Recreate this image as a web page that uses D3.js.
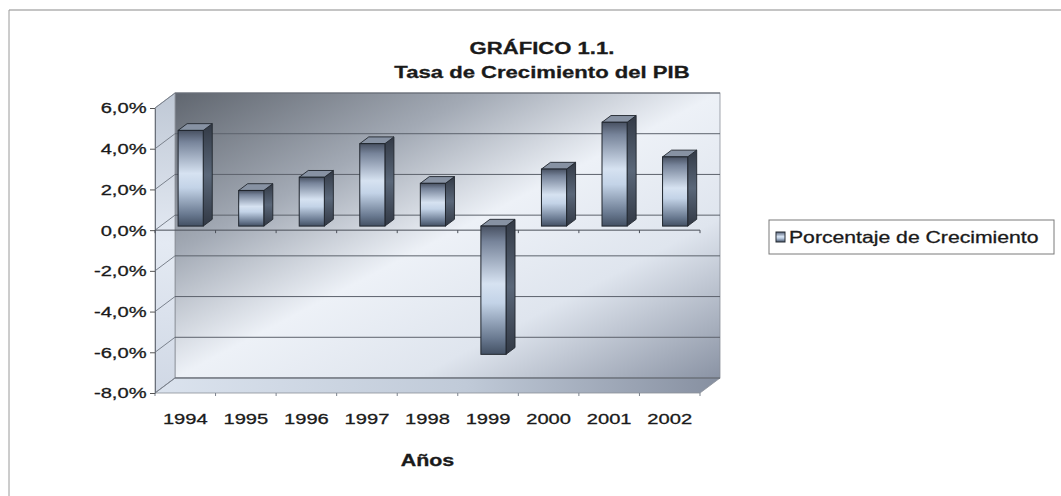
<!DOCTYPE html>
<html>
<head>
<meta charset="utf-8">
<script src="https://cdn.jsdelivr.net/npm/d3@7"></script>
<style>
  body { margin: 0; background: #fff; }
  text { font-family: "Liberation Sans", Arial, sans-serif; fill: #1a1a1a; stroke: #1a1a1a; stroke-width: 0.3px; }
</style>
</head>
<body>
<div id="chart"></div>
<script>
// Data
const years = ["1994", "1995", "1996", "1997", "1998", "1999", "2000", "2001", "2002"];
const growth = [4.7, 1.75, 2.4, 4.05, 2.1, -6.3, 2.8, 5.1, 3.4];
const yTicks = [-8, -6, -4, -2, 0, 2, 4, 6];
const titleLines = ["GRÁFICO 1.1.", "Tasa de Crecimiento del PIB"];
const xTitle = "Años";
const seriesName = "Porcentaje de Crecimiento";

// The scanned original is wider than it is tall, so text gets stretched
const SX = 1.3;

const W = 1061, H = 496;
// 3D depth offset of the wall (front plane -> back wall)
const DX = 20, DY = -15;
// depth position of the bars (fraction of the wall depth)
const f1 = 0.27, f2 = 0.72;

const svg = d3.select("#chart").append("svg")
    .attr("width", W)
    .attr("height", H);

const defs = svg.append("defs");
function grad(id, stops, x2, y2) {
    const g = defs.append("linearGradient").attr("id", id)
        .attr("x1", 0).attr("y1", 0).attr("x2", x2).attr("y2", y2);
    stops.forEach(s => g.append("stop").attr("offset", s[0]).attr("stop-color", s[1]));
}
grad("wall", [[0, "#60666f"], [0.28, "#a3aab5"], [0.5, "#edf1f7"], [0.72, "#dfe5ee"], [1, "#8a93a4"]], 1, 1);
grad("side", [[0, "#bfc8d5"], [0.5, "#e4eaf3"], [1, "#d0d8e5"]], 0, 1);
grad("floor", [[0, "#dbe3ee"], [0.55, "#c0cad8"], [1, "#868fa0"]], 1, 0);
grad("barFront", [[0, "#485162"], [0.12, "#77849a"], [0.45, "#d6e2f1"], [0.6, "#c3d3e7"], [0.88, "#68788f"], [1, "#435063"]], 0, 1);
grad("barSide", [[0, "#323945"], [0.5, "#5a6779"], [1, "#313844"]], 0, 1);

// Scales (front plane)
const x = d3.scaleBand().domain(years).range([155, 700]).paddingInner(0).paddingOuter(0);
const y = d3.scaleLinear().domain([-8, 6]).range([393, 108]);

const xLeft = x.range()[0], xRight = x.range()[1];
const yTop = y(6), yBottom = y(-8);
const edges = years.map(d => x(d)).concat([xRight]);

// outer frame of the scanned page
svg.append("line").attr("x1", 9).attr("x2", W).attr("y1", 10).attr("y2", 10)
    .attr("stroke", "#8a8a8a").attr("stroke-width", 1.2);
svg.append("line").attr("x1", 9).attr("x2", 9).attr("y1", 10).attr("y2", H)
    .attr("stroke", "#9a9a9a").attr("stroke-width", 1);

// back wall
svg.append("rect")
    .attr("x", xLeft + DX).attr("y", yTop + DY)
    .attr("width", xRight - xLeft).attr("height", yBottom - yTop)
    .attr("fill", "url(#wall)")
    .attr("stroke", "#8a8f98").attr("stroke-width", 0.8);

// side wall
svg.append("polygon")
    .attr("points", [[xLeft, yTop], [xLeft + DX, yTop + DY], [xLeft + DX, yBottom + DY], [xLeft, yBottom]].join(" "))
    .attr("fill", "url(#side)")
    .attr("stroke", "#8a8f98").attr("stroke-width", 0.8);

// floor
svg.append("polygon")
    .attr("points", [[xLeft, yBottom], [xRight, yBottom], [xRight + DX, yBottom + DY], [xLeft + DX, yBottom + DY]].join(" "))
    .attr("fill", "url(#floor)")
    .attr("stroke", "#8a8f98").attr("stroke-width", 0.8);

// small ticks along the floor's front edge
svg.selectAll(".ft").data(edges).enter().append("line")
    .attr("x1", d => d).attr("x2", d => d)
    .attr("y1", yBottom).attr("y2", yBottom + 3)
    .attr("stroke", "#7b828d");

// gridlines on back wall and side wall
const grid = svg.append("g").attr("stroke", "#5c626c").attr("stroke-width", 1);
grid.selectAll(".gb").data(yTicks).enter().append("line")
    .attr("x1", xLeft + DX).attr("x2", xRight + DX)
    .attr("y1", d => y(d) + DY).attr("y2", d => y(d) + DY);
grid.selectAll(".gs").data(yTicks).enter().append("line")
    .attr("stroke", "#7b828d")
    .attr("x1", xLeft).attr("x2", xLeft + DX)
    .attr("y1", d => y(d)).attr("y2", d => y(d) + DY);

// y axis
const yAxis = d3.axisLeft(y)
    .tickValues(yTicks)
    .tickSize(5)
    .tickSizeOuter(0)
    .tickPadding(1.5)
    .tickFormat(d => d.toFixed(1).replace(".", ",") + "%");
const gy = svg.append("g").attr("transform", `translate(${xLeft},0)`).call(yAxis);
gy.select(".domain").attr("stroke", "#6a707a");
gy.selectAll(".tick line").attr("stroke", "#555");
gy.selectAll(".tick text")
    .attr("font-size", 15.5)
    .attr("fill", "#1a1a1a")
    .attr("transform", `scale(${SX},1)`);

// category axis line at zero with ticks at band edges
const zeroY = y(0);
svg.append("line")
    .attr("x1", xLeft).attr("x2", xRight)
    .attr("y1", zeroY).attr("y2", zeroY)
    .attr("stroke", "#4a4f58").attr("stroke-width", 1);
svg.selectAll(".zt").data(edges).enter().append("line")
    .attr("x1", d => d).attr("x2", d => d)
    .attr("y1", zeroY).attr("y2", zeroY + 3)
    .attr("stroke", "#4a4f58");

// bars
const bw = x.bandwidth() * 0.415;
const ddx = (f2 - f1) * DX, ddy = (f2 - f1) * DY;
const bars = svg.append("g").selectAll("g").data(years).enter().append("g");
bars.each(function(d, i) {
    const v = growth[i];
    const g = d3.select(this);
    const fx = x(d) + (x.bandwidth() - bw) / 2 + f1 * DX;
    const t = y(Math.max(v, 0)) + f1 * DY;
    const b = y(Math.min(v, 0)) + f1 * DY;
    g.append("polygon")
        .attr("points", [[fx + bw, t], [fx + bw + ddx, t + ddy], [fx + bw + ddx, b + ddy], [fx + bw, b]].join(" "))
        .attr("fill", "url(#barSide)")
        .attr("stroke", "#20262e").attr("stroke-width", 0.9);
    g.append("polygon")
        .attr("points", [[fx, t], [fx + ddx, t + ddy], [fx + bw + ddx, t + ddy], [fx + bw, t]].join(" "))
        .attr("fill", "#8792a3")
        .attr("stroke", "#20262e").attr("stroke-width", 0.9);
    g.append("rect")
        .attr("x", fx).attr("y", t)
        .attr("width", bw).attr("height", b - t)
        .attr("fill", "url(#barFront)")
        .attr("stroke", "#20262e").attr("stroke-width", 1);
});

// x axis labels under the floor
const xAxis = d3.axisBottom(x).tickSize(0).tickPadding(20).tickSizeOuter(0);
const gx = svg.append("g").attr("transform", `translate(0,${yBottom})`).call(xAxis);
gx.select(".domain").remove();
gx.selectAll(".tick text")
    .attr("font-size", 15.5)
    .attr("fill", "#1a1a1a")
    .attr("transform", `scale(${SX},1)`);

// axis title
svg.append("text")
    .attr("transform", `translate(${(xLeft + xRight) / 2},466) scale(${SX},1)`)
    .attr("text-anchor", "middle")
    .attr("font-size", 16.5)
    .attr("font-weight", "bold")
    .text(xTitle);

// chart title
const titleX = 542;
svg.selectAll(".title").data(titleLines).enter().append("text")
    .attr("class", "title")
    .attr("transform", (d, i) => `translate(${titleX},${54 + i * 24}) scale(${SX},1)`)
    .attr("text-anchor", "middle")
    .attr("font-size", 17)
    .attr("font-weight", "bold")
    .text(d => d);

// legend
const leg = svg.append("g").attr("transform", "translate(769,220)");
leg.append("rect")
    .attr("width", 285).attr("height", 34)
    .attr("fill", "#fff")
    .attr("stroke", "#7a7a7a").attr("stroke-width", 1);
leg.append("rect")
    .attr("x", 7).attr("y", 12).attr("width", 9).attr("height", 10)
    .attr("fill", "url(#barFront)")
    .attr("stroke", "#262c35").attr("stroke-width", 1);
leg.append("text")
    .attr("transform", `translate(20,23) scale(${SX},1)`)
    .attr("font-size", 16.3)
    .text(seriesName);
</script>
</body>
</html>
